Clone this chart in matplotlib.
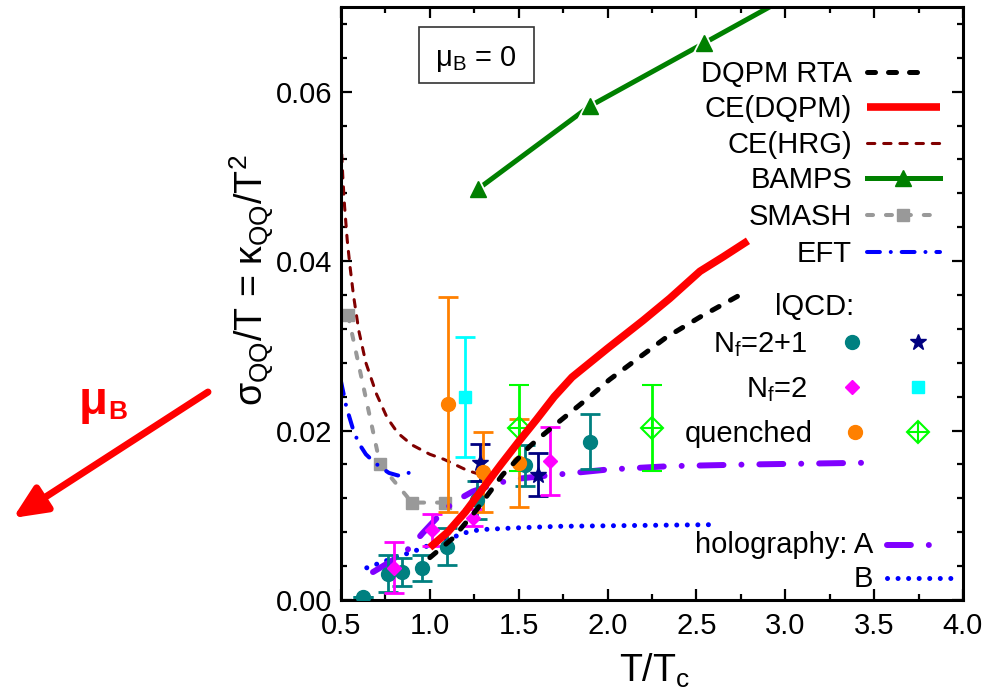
import matplotlib
matplotlib.use("Agg")
import matplotlib.pyplot as plt
from matplotlib.patches import FancyArrowPatch, Rectangle, ArrowStyle

plt.rcParams['font.family'] = ['Liberation Sans', 'DejaVu Sans']
plt.rcParams['mathtext.fontset'] = 'custom'
plt.rcParams['mathtext.rm'] = 'Liberation Sans'
plt.rcParams['mathtext.it'] = 'Liberation Sans:italic'
plt.rcParams['mathtext.bf'] = 'Liberation Sans:bold'

# ---- model curves (T/Tc, sigma/T) ----
dqpm_rta_T = [1.0, 1.13, 1.265, 1.41, 1.56, 1.62, 1.73, 1.90, 2.01, 2.33, 2.52, 2.77]
dqpm_rta_s = [0.0050, 0.0073, 0.0107, 0.0148, 0.0181, 0.0192, 0.0211, 0.0240, 0.0260, 0.0310, 0.0334, 0.0363]

ce_dqpm_T = [1.0, 1.1, 1.2, 1.3, 1.4, 1.5, 1.6, 1.7, 1.8, 1.9, 2.0, 2.2, 2.35, 2.52, 2.65, 2.79]
ce_dqpm_s = [0.0062, 0.0080, 0.0104, 0.0132, 0.0160, 0.0187, 0.0213, 0.0240, 0.0263, 0.0280, 0.0297, 0.0330, 0.0356, 0.0388, 0.0405, 0.0424]

ce_hrg_T = [0.5, 0.51, 0.52, 0.535, 0.55, 0.57, 0.6, 0.64, 0.7, 0.76, 0.82, 0.9, 1.0, 1.08, 1.15, 1.21, 1.27]
ce_hrg_s = [0.0545, 0.0500, 0.0465, 0.0425, 0.0395, 0.0360, 0.0318, 0.0280, 0.0243, 0.0215, 0.0197, 0.0183, 0.0172, 0.0166, 0.0159, 0.0153, 0.0149]

bamps_T = [1.27, 1.90, 2.54, 3.17]
bamps_s = [0.0485, 0.0583, 0.0657, 0.0730]

smash_T = [0.54, 0.72, 0.90, 1.085]
smash_s = [0.0336, 0.0160, 0.0115, 0.0115]

eft_T = [0.5, 0.53, 0.57, 0.6, 0.64, 0.68, 0.72, 0.77, 0.82, 0.86, 0.89]
eft_s = [0.0258, 0.0228, 0.0200, 0.0185, 0.0172, 0.0164, 0.0157, 0.0150, 0.0147, 0.0148, 0.0151]

holo_a_T = [0.68, 0.815, 0.89, 0.96, 1.04, 1.13, 1.24, 1.38, 1.49, 1.62, 2.0, 2.35, 2.8, 3.45]
holo_a_s = [0.0033, 0.0050, 0.0062, 0.0079, 0.0097, 0.0115, 0.0128, 0.0138, 0.0143, 0.0146, 0.0154, 0.0158, 0.0160, 0.0162]

holo_b_T = [0.645, 0.815, 0.905, 1.0, 1.095, 1.19, 1.28, 1.47, 1.73, 2.17, 2.62]
holo_b_s = [0.0038, 0.0051, 0.0057, 0.0065, 0.0071, 0.0079, 0.0083, 0.0085, 0.0087, 0.0088, 0.0089]

# ---- lattice QCD points ----
nf21_T = [0.625, 0.766, 0.843, 0.955, 1.095, 1.265, 1.535, 1.90]
nf21_s = [0.0004, 0.0031, 0.0033, 0.0038, 0.0063, 0.0118, 0.0159, 0.0187]
nf21_err = [0.0, 0.0022, 0.0016, 0.0015, 0.0022, 0.0022, 0.0024, 0.0032]

nf21b_T = [1.282, 1.609]
nf21b_s = [0.0162, 0.0148]
nf21b_err = [0.0022, 0.0025]

nf2_T = [0.80, 1.01, 1.243, 1.676]
nf2_s = [0.0038, 0.0083, 0.0097, 0.0164]
nf2_err = [0.0030, 0.0019, 0.0010, 0.0040]

nf2b_T = [1.198]
nf2b_s = [0.0240]
nf2b_err = [0.0071]

quen_T = [1.10, 1.30, 1.50]
quen_s = [0.0231, 0.0151, 0.0162]
quen_err = [0.0127, 0.0047, 0.0052]

quenb_T = [1.50, 2.25]
quenb_s = [0.0203, 0.0203]
quenb_err = [0.0051, 0.0051]

x_ticks = [0.5, 1.0, 1.5, 2.0, 2.5, 3.0, 3.5, 4.0]
y_ticks = [0.00, 0.02, 0.04, 0.06]

W, H = 999, 697
fig = plt.figure(figsize=(W / 100, H / 100), dpi=100)
ax = fig.add_axes([341 / W, 97 / H, 622 / W, 593 / H])

TEAL, NAVY, MAG, CYAN = '#008080', '#000080', '#FF00FF', '#00FFFF'
ORANGE, LIME, GREEN = '#FF8000', '#00FF00', '#008000'
DRED, GRAY, BLUE, PURPLE = '#800000', '#999999', '#0000FF', '#8000FF'

sty = {
    'rta': dict(color='black', lw=3.6, dashes=(1.6, 2.6), dash_capstyle='round'),
    'ce': dict(color='#FF0000', lw=5.5, solid_capstyle='butt'),
    'hrg': dict(color=DRED, lw=2.2, dashes=(2.4, 2.9), dash_capstyle='round'),
    'bamps': dict(color=GREEN, lw=3.6),
    'smash': dict(color=GRAY, lw=2.9, dashes=(1.5, 3.2), dash_capstyle='round'),
    'eft': dict(color=BLUE, lw=2.9, dashes=(3.2, 2.7, 0.01, 2.7), dash_capstyle='round'),
    'holoA': dict(color=PURPLE, lw=4.3, dashes=(4.0, 3.0, 0.01, 3.0), dash_capstyle='round'),
    'holoB': dict(color=BLUE, lw=3.6, dashes=(0.01, 2.1), dash_capstyle='round'),
}

# model curves
ax.plot(ce_hrg_T, ce_hrg_s, zorder=2, **sty['hrg'])
ax.plot(smash_T, smash_s, zorder=2, **sty['smash'])
ax.plot(smash_T, smash_s, ls='none', marker='s', ms=8.5, color=GRAY, zorder=2)
ax.plot(eft_T, eft_s, zorder=2, **sty['eft'])
ax.plot(holo_b_T, holo_b_s, zorder=2, **sty['holoB'])
ax.plot(holo_a_T, holo_a_s, zorder=2, **sty['holoA'])
ax.plot(bamps_T, bamps_s, zorder=2, **sty['bamps'])
ax.plot(bamps_T, bamps_s, ls='none', marker='^', ms=17, color='white', zorder=2)
ax.plot(bamps_T, bamps_s, ls='none', marker='^', ms=12, color=GREEN, zorder=2)

# lattice data
eb = dict(ls='none', elinewidth=2, capsize=7, capthick=2, zorder=3)
ax.errorbar(nf21_T, nf21_s, yerr=nf21_err, fmt='o', ms=10, color=TEAL, **eb)
ax.errorbar(nf21b_T, nf21b_s, yerr=nf21b_err, fmt='*', ms=12, color=NAVY, **eb)
ax.errorbar(nf2_T, nf2_s, yerr=nf2_err, fmt='D', ms=7.5, color=MAG, **eb)
ax.errorbar(nf2b_T, nf2b_s, yerr=nf2b_err, fmt='s', ms=8, color=CYAN, **eb)
ax.errorbar(quen_T, quen_s, yerr=quen_err, fmt='o', ms=10, color=ORANGE, **eb)
ax.errorbar(quenb_T, quenb_s, yerr=quenb_err, fmt='D', ms=11, color=LIME,
            mfc='none', mew=1.5, **eb)
ax.plot(quenb_T, quenb_s, ls='none', marker='+', ms=15.5, mew=1.5, color=LIME, zorder=3)

ax.plot(dqpm_rta_T, dqpm_rta_s, zorder=4, **sty['rta'])
ax.plot(ce_dqpm_T, ce_dqpm_s, zorder=4, **sty['ce'])

ax.set_xlim(0.5, 4.0)
ax.set_ylim(0.0, 0.07)
ax.set_xticks(x_ticks)
ax.set_yticks(y_ticks)
ax.set_xticklabels([f'{v:.1f}' for v in x_ticks])
ax.set_yticklabels([f'{v:.2f}' for v in y_ticks])
ax.set_xticks([0.75, 1.25, 1.75, 2.25, 2.75, 3.25, 3.75], minor=True)
ax.set_yticks([0.004 * i for i in range(1, 18) if i % 5 != 0], minor=True)
ax.tick_params(which='both', direction='in', top=True, right=True, width=1.6,
               labelsize=21)
ax.tick_params(which='major', length=8)
ax.tick_params(which='minor', length=4.5)
ax.tick_params(axis='x', pad=9)
ax.tick_params(axis='y', pad=6)
for sp in ax.spines.values():
    sp.set_linewidth(2.2)

fig.text(252 / W, 1 - 280 / H, 'σ$_\\mathregular{QQ}$/T = κ$_\\mathregular{QQ}$/T$^\\mathregular{2}$',
         rotation=90, ha='center', va='center', fontsize=27)
fig.text(655 / W, 1 - 682 / H, 'T/T$_\\mathregular{c}$', ha='center', va='baseline', fontsize=27)


def axy(px, py):
    return (px - 341) / 622, (600 - py) / 593


def leg_text(px, py, s, ha='right'):
    x, y = axy(px, py)
    ax.text(x, y, s, transform=ax.transAxes, ha=ha, va='baseline', fontsize=21)


def leg_line(py, key, x0=867, x1=940, marker=None, **mk):
    (a, y), (b, _) = axy(x0, py), axy(x1, py)
    ax.plot([a, b], [y, y], transform=ax.transAxes, clip_on=False, **sty[key])
    if marker:
        ax.plot([(a + b) / 2], [y], transform=ax.transAxes, clip_on=False,
                ls='none', marker=marker, **mk)


def leg_mark(px, py, **mk):
    x, y = axy(px, py)
    ax.plot([x], [y], transform=ax.transAxes, clip_on=False, ls='none', **mk)


rows = [('DQPM RTA', 72, 'rta'), ('CE(DQPM)', 107, 'ce'), ('CE(HRG)', 143, 'hrg'),
        ('BAMPS', 178, 'bamps'), ('SMASH', 215, 'smash'), ('EFT', 252, 'eft')]
for label, py, key in rows:
    leg_text(852, py + 10, label)
    if key == 'bamps':
        leg_line(py, key, marker='^', ms=12, color=GREEN)
    elif key == 'smash':
        leg_line(py, key, marker='s', ms=8.5, color=GRAY)
    elif key == 'rta':
        leg_line(py, key, x1=926)
    else:
        leg_line(py, key)

leg_text(775, 315, 'lQCD:', ha='left')
leg_text(808, 352, 'N$_\\mathregular{f}$=2+1')
leg_text(808, 397, 'N$_\\mathregular{f}$=2')
leg_text(813, 442, 'quenched')
leg_mark(852, 342, marker='o', ms=10, color=TEAL)
leg_mark(918, 342, marker='*', ms=12, color=NAVY)
leg_mark(852, 387, marker='D', ms=7.5, color=MAG)
leg_mark(918, 387, marker='s', ms=8, color=CYAN)
leg_mark(855, 432, marker='o', ms=10, color=ORANGE)
leg_mark(918, 432, marker='D', ms=11, mfc='none', mew=1.5, color=LIME)
leg_mark(918, 432, marker='+', ms=15.5, mew=1.5, color=LIME)

leg_text(873, 553, 'holography: A')
leg_line(545, 'holoA', x0=887, x1=937)
leg_text(873, 587, 'B')
leg_line(578, 'holoB', x0=887, x1=952)

# mu_B = 0 box
bx0, by0 = axy(419, 83)
bx1, by1 = axy(534, 27)
ax.add_patch(Rectangle((bx0, by0), bx1 - bx0, by1 - by0, transform=ax.transAxes,
                       fill=False, ec='#333333', lw=1.2, zorder=5))
tx, ty = axy(476, 66)
ax.text(tx, ty, 'μ$_\\mathregular{B}$ = 0', transform=ax.transAxes, ha='center',
        va='baseline', fontsize=21, zorder=5)

# red mu_B arrow on the left
arrow = FancyArrowPatch((208 / W, 1 - 392 / H), (13 / W, 1 - 518 / H),
                        transform=fig.transFigure, color='#FF0000', lw=5,
                        arrowstyle=ArrowStyle('-|>', head_length=1.0, head_width=0.45),
                        mutation_scale=20, shrinkA=0, shrinkB=0)
fig.patches.append(arrow)
fig.text(79 / W, 1 - 414 / H, 'μ', color='#FF0000', fontsize=34, fontweight='bold',
         ha='left', va='baseline')
fig.text(108 / W, 1 - 419 / H, 'B', color='#FF0000', fontsize=19, fontweight='bold',
         ha='left', va='baseline')

fig.savefig('out.png', dpi=100)
